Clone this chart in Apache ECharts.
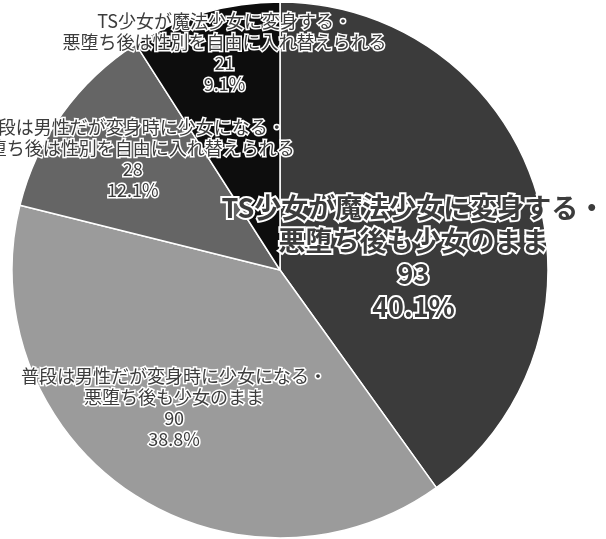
<!DOCTYPE html>
<html>
<head>
<meta charset="utf-8">
<script src="https://cdn.jsdelivr.net/npm/echarts@6/dist/echarts.min.js"></script>
<style>
  html, body { margin: 0; padding: 0; background: #fff; }
  #chart { width: 606px; height: 539px; }
</style>
</head>
<body>
<div id="chart"></div>
<script>
// 回答の内訳（上から時計回り）
var names = [
  'TS少女が魔法少女に変身する・\n悪堕ち後も少女のまま',
  '普段は男性だが変身時に少女になる・\n悪堕ち後も少女のまま',
  '普段は男性だが変身時に少女になる・\n悪堕ち後は性別を自由に入れ替えられる',
  'TS少女が魔法少女に変身する・\n悪堕ち後は性別を自由に入れ替えられる'
];
var values = [93, 90, 28, 21];

var colors = ['#3b3b3b', '#9b9b9b', '#656565', '#0d0d0d'];
// ラベル位置の微調整
var offsets = [[3, 29], [-29, 24], [-36, -31], [-17, -86]];

var total = values.reduce(function (a, b) { return a + b; }, 0);

var data = [];
for (var i = 0; i < values.length; i++) {
  var big = i === 0;
  data.push({
    name: names[i],
    value: values[i],
    itemStyle: { color: colors[i] },
    label: {
      offset: offsets[i],
      color: '#3c3c3c',
      textBorderColor: '#fff',
      fontWeight: big ? 'bold' : 'normal',
      fontSize: big ? 27 : 18,
      lineHeight: big ? 33 : 21,
      textBorderWidth: big ? 4 : 3
    }
  });
}

var chart = echarts.init(document.getElementById('chart'));
chart.setOption({
  animation: false,
  series: [{
    type: 'pie',
    center: [280, 270],
    radius: 268,
    startAngle: 90,
    clockwise: true,
    itemStyle: { borderColor: '#fff', borderWidth: 1.5 },
    label: {
      show: true,
      position: 'inside',
      fontFamily: '"Noto Sans CJK JP", sans-serif',
      align: 'center',
      formatter: function (p) {
        return p.name + '\n' + p.value + '\n' + (p.value / total * 100).toFixed(1) + '%';
      }
    },
    labelLayout: { hideOverlap: false },
    labelLine: { show: false },
    emphasis: { disabled: true },
    data: data
  }]
});
</script>
</body>
</html>
